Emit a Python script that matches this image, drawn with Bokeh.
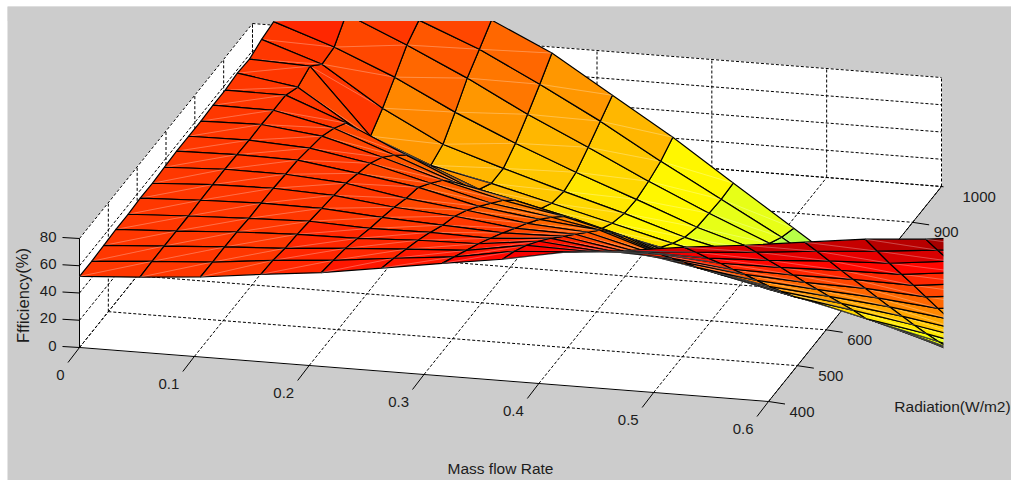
from bokeh.plotting import figure
from bokeh.embed import file_html
from bokeh.resources import INLINE
from bokeh.models import Range1d, LinearColorMapper, ColumnDataSource
from bokeh.core.properties import value
import numpy as np

# ---- data ----
mass_flow = [0.0, 0.0526, 0.1053, 0.1579, 0.2105, 0.2632, 0.3158, 0.3684, 0.4211, 0.4737,
             0.5263, 0.5789, 0.6316, 0.6842, 0.7368, 0.7895]
radiation = [400, 442.1, 484.2, 526.3, 568.4, 610.5, 652.6, 694.7, 736.8, 778.9,
             821.1, 863.2, 905.3, 947.4, 989.5, 1031.6, 1073.7, 1115.8, 1157.9, 1200]
z_00 = [52.2,52.2,52.8,53.5,53.5,54.2,54.1,54.8,55.5,55.4,55.4,56,56,57.4,56.6,60,62,62,62,62]
z_01 = [55.1,55.6,55.8,55.7,55.7,56.2,56.6,56.8,56.5,56,56.4,55.8,55.8,50.6,54.9,45.3,46.8,60,58,56]
z_02 = [58.7,58.6,58.6,58.5,57.5,57.5,57.4,56.6,55.9,53.6,51.3,46.1,38.8,22.5,7,16.5,28.2,40.7,47.9,50]
z_03 = [64.1,63.3,61.1,60.3,58.8,57.2,55.7,53.5,49.7,46,39.3,29.7,18.7,3.9,-10.9,-6.5,6,19.9,30,40.4]
z_04 = [68.8,66.8,64.5,60.8,57,54,50.4,45.9,42.9,34.8,25.9,13.3,-0.7,-14,-20.7,-20.7,-13.4,-3.2,7.8,19.6]
z_05 = [75.7,71.8,67.4,62.9,57.6,51.8,47.3,40.6,32.4,23.6,14.7,3.6,-10.4,-25,-31.8,-34.1,-31.2,-23.9,-15.8,-7.9]
z_06 = [82.6,76.3,70,63.8,56.7,49.6,42,34.5,26.3,16.8,6.4,-6.9,-21.6,-36.4,-43,-46.8,-47.6,-45.4,-41.8,-35.2]
z_07 = [89.1,83.9,77.2,69.1,60.2,50.6,41,31.4,21.8,8.5,-4.8,-18.8,-32.8,-46.1,-54.3,-60.9,-64.6,-65.4,-66.2,-65.4]
z_08 = [97.7,87,76.3,65.2,54.1,43,31.6,20.1,7.6,-6.4,-21.2,-35.2,-47.7,-55.9,-64,-71.4,-78,-84,-90.6,-95]
z_09 = [102.3,90.8,79,66.5,52.4,38.4,23.7,10.4,-3.7,-16.9,-31,-45,-59,-71.5,-81.9,-91.5,-100.4,-109.3,-117.4,-124.8]
z_10 = [108.4,93.6,78.2,63.4,47.9,33.1,17.6,2.1,-12.6,-27.4,-40.7,-54,-67.9,-81.3,-91.6,-101.2,-110,-119,-127,-135]
z_11 = [113.3,97.1,80.1,63.9,47.3,30.7,14.5,-1.8,-18,-34.2,-51.2,-65.2,-79.2,-94,-108,-122,-136,-148.6,-161,-173.7]
z_12 = [119,101.3,83.2,65.1,47.4,29.7,11.7,-6,-23.8,-41.4,-58.8,-75.7,-91.9,-107.4,-123,-138,-153,-168,-183,-197]
z_13 = [124.7,104.8,84.9,65.7,46.5,27,7.5,-11.7,-30.9,-49.3,-67.7,-86,-104,-122,-139,-156,-172,-188,-204,-219]
z_14 = [128.2,109,89.9,70.7,51.5,31.6,11.7,-8.6,-29,-49,-69,-88,-107,-126,-144,-162,-180,-197,-214,-231]
z_15 = [133,113,93,73,53,32,12,-9,-30,-51,-72,-92,-112,-132,-151,-170,-189,-207,-225,-243]
x_ticks = [0, 0.1, 0.2, 0.3, 0.4, 0.5, 0.6]
x_tick_labels = ["0", "0.1", "0.2", "0.3", "0.4", "0.5", "0.6"]
y_ticks = [400, 500, 600, 700, 800, 900, 1000]
y_tick_labels = ["400", "500", "600", "700", "800", "900", "1000"]
z_ticks = [0, 20, 40, 60, 80]
z_tick_labels = ["0", "20", "40", "60", "80"]
x_title = "Mass flow Rate"
y_title = "Radiation(W/m2)"
z_title = "Ffficiency(%)"

Z = np.array([z_00, z_01, z_02, z_03, z_04, z_05, z_06, z_07, z_08, z_09,
              z_10, z_11, z_12, z_13, z_14, z_15], dtype=float)
X = np.array(mass_flow)
Y = np.array(radiation)

# ---- orthographic view of the axes box, in page pixels ----
XLIM, YLIM, ZLIM = (0, 0.6), (400, 1000), (0, 80)
ORIGIN = np.array([79.0, 347.0])
EX, EY, EZ = np.array([689.0, 54.0]), np.array([173.0, -215.0]), np.array([0.0, -109.0])

def project(x, y, z):
    u = (np.asarray(x, float) - XLIM[0]) / (XLIM[1] - XLIM[0])
    v = (np.asarray(y, float) - YLIM[0]) / (YLIM[1] - YLIM[0])
    w = (np.asarray(z, float) - ZLIM[0]) / (ZLIM[1] - ZLIM[0])
    return ORIGIN[0] + u*EX[0] + v*EY[0] + w*EZ[0], ORIGIN[1] + u*EX[1] + v*EY[1] + w*EZ[1]

def depth(x, y, z):
    u = (np.asarray(x, float) - XLIM[0]) / (XLIM[1] - XLIM[0])
    v = (np.asarray(y, float) - YLIM[0]) / (YLIM[1] - YLIM[0])
    w = (np.asarray(z, float) - ZLIM[0]) / (ZLIM[1] - ZLIM[0])
    return u - 3.98*v + 8.35*w

def seg(a, b):
    sx, sy = project(*zip(a, b))
    return list(sx), list(sy)

GRAY = "#CCCCCC"
FONT = value("Liberation Sans")
INK = "#1c1c1c"

# the frame is the gray panel; a white strip stays to its left and above it
p = figure(width=1011, height=480, output_backend="svg", toolbar_location=None,
           x_range=Range1d(7, 1011), y_range=Range1d(480, 6),
           min_border_left=7, min_border_top=6, min_border_right=0, min_border_bottom=0,
           background_fill_color=GRAY, border_fill_color="white", outline_line_color=None)
p.axis.visible = False
p.grid.visible = False

# walls
x0, x1 = XLIM; y0, y1 = YLIM; z0, z1 = ZLIM
walls = [[(x0,y0,z0),(x1,y0,z0),(x1,y1,z0),(x0,y1,z0)],
         [(x0,y0,z0),(x0,y1,z0),(x0,y1,z1),(x0,y0,z1)],
         [(x0,y1,z0),(x1,y1,z0),(x1,y1,z1),(x0,y1,z1)]]
wx, wy = [], []
for w in walls:
    sx, sy = project(*zip(*w))
    wx.append(list(sx)); wy.append(list(sy))
p.patches(wx, wy, fill_color="white", line_color="white", line_width=1)

# dashed grid
dashed = []
for t in x_ticks:
    dashed.append(seg((t,y0,z0),(t,y1,z0)))
    dashed.append(seg((t,y1,z0),(t,y1,z1)))
for t in y_ticks:
    if t != y0:
        dashed.append(seg((x0,t,z0),(x1,t,z0)))
    dashed.append(seg((x0,t,z0),(x0,t,z1)))
for t in z_ticks:
    dashed.append(seg((x0,y0,t),(x0,y1,t)))
    dashed.append(seg((x0,y1,t),(x1,y1,t)))
p.multi_line([d[0] for d in dashed], [d[1] for d in dashed], line_color="black",
             line_width=1, line_dash="3 2")

# solid axes and ticks
solid = [seg((x0,y0,z0),(x1,y0,z0)), seg((x1,y0,z0),(x1,y1,z0)), seg((x0,y0,z0),(x0,y0,z1))]
p.multi_line([d[0] for d in solid], [d[1] for d in solid], line_color="black", line_width=1)
tx, ty = [], []
for t in x_ticks:
    sx, sy = project(t, y0, z0)
    tx.append([float(sx), float(sx) - 11.5]); ty.append([float(sy), float(sy) + 15])
for t in y_ticks:
    sx, sy = project(x1, t, z0)
    tx.append([float(sx), float(sx) + 16.5]); ty.append([float(sy), float(sy) + 2.5])
for t in z_ticks:
    sx, sy = project(x0, y0, t)
    tx.append([float(sx), float(sx) - 17]); ty.append([float(sy), float(sy) - 1])
p.multi_line(tx, ty, line_color="black", line_width=1)

def y_labels(indices):
    sx, sy = project(np.full(len(indices), x1), [y_ticks[i] for i in indices], np.zeros(len(indices)))
    p.text(list(sx), list(sy), text=[y_tick_labels[i] for i in indices], x_offset=21, y_offset=10,
           text_font=FONT, text_font_size="15px", text_color=INK,
           text_align="left", text_baseline="middle")

# labels that the surface passes in front of
y_labels([3, 4])

# surface, back to front, with the jet colormap
def jet(c):
    r = np.clip(min(4*c - 1.5, 4.5 - 4*c), 0, 1)
    g = np.clip(min(4*c - 0.5, 3.5 - 4*c), 0, 1)
    b = np.clip(min(4*c + 0.5, 2.5 - 4*c), 0, 1)
    return "#%02x%02x%02x" % (int(r*255), int(g*255), int(b*255))
jet64 = [jet((k + 0.5)/64) for k in range(64)]
mapper = LinearColorMapper(palette=jet64, low=-388, high=153)

cells = []
for i in range(len(X) - 1):
    for j in range(len(Y) - 1):
        ci = [i, i+1, i+1, i]
        cj = [j, j, j+1, j+1]
        xs, ys, zs = X[ci], Y[cj], Z[ci, cj]
        sx, sy = project(xs, ys, zs)
        # whatever rises past the viewport top stays under the gray band drawn below
        sy = np.maximum(sy, 12.0)
        cells.append((float(np.mean(depth(xs, ys, zs))), list(sx), list(sy), float(Z[i, j])))
cells.sort(key=lambda c: c[0])
# each cell, then its faint diagonal seam, in one ordered glyph
src = {k: [] for k in ("xs", "ys", "eff", "fa", "lc", "la", "lw")}
for _, sx, sy, eff in cells:
    src["xs"].append(sx); src["ys"].append(sy); src["eff"].append(eff)
    src["fa"].append(1.0); src["lc"].append("black"); src["la"].append(1.0); src["lw"].append(1.2)
    src["xs"].append([sx[0], sx[2]]); src["ys"].append([sy[0], sy[2]]); src["eff"].append(eff)
    src["fa"].append(0.0); src["lc"].append("white"); src["la"].append(0.22); src["lw"].append(0.7)
p.patches("xs", "ys", source=ColumnDataSource(src), fill_color={"field": "eff", "transform": mapper},
          fill_alpha="fa", line_color="lc", line_alpha="la", line_width="lw")

# the axes viewport ends here: the surface runs past it
p.quad(left=[7, 943], right=[1011, 1011], top=[6, 20.5], bottom=[20.5, 480],
       fill_color=GRAY, line_color=None)

# remaining texts
y_labels([0, 1, 2, 5, 6])
sx, sy = project(x_ticks, np.full(len(x_ticks), y0), np.zeros(len(x_ticks)))
p.text(list(sx), list(sy), text=x_tick_labels, x_offset=-15, y_offset=27, text_font=FONT,
       text_font_size="15px", text_color=INK, text_align="right", text_baseline="middle")
sx, sy = project(np.full(len(z_ticks), x0), np.full(len(z_ticks), y0), z_ticks)
p.text(list(sx), list(sy), text=z_tick_labels, x_offset=-23, y_offset=-2, text_font=FONT,
       text_font_size="15px", text_color=INK, text_align="right", text_baseline="middle")
p.text([500], [468], text=[x_title], text_font=FONT, text_font_size="15.5px", text_color=INK,
       text_align="center", text_baseline="middle")
p.text([952], [406], text=[y_title], text_font=FONT, text_font_size="15.5px", text_color=INK,
       text_align="center", text_baseline="middle")
p.text([22], [295], text=[z_title], angle=[np.pi/2], text_font=FONT, text_font_size="16.5px",
       text_color=INK, text_align="center", text_baseline="middle")

open("out.html", "w").write(file_html(p, INLINE))
